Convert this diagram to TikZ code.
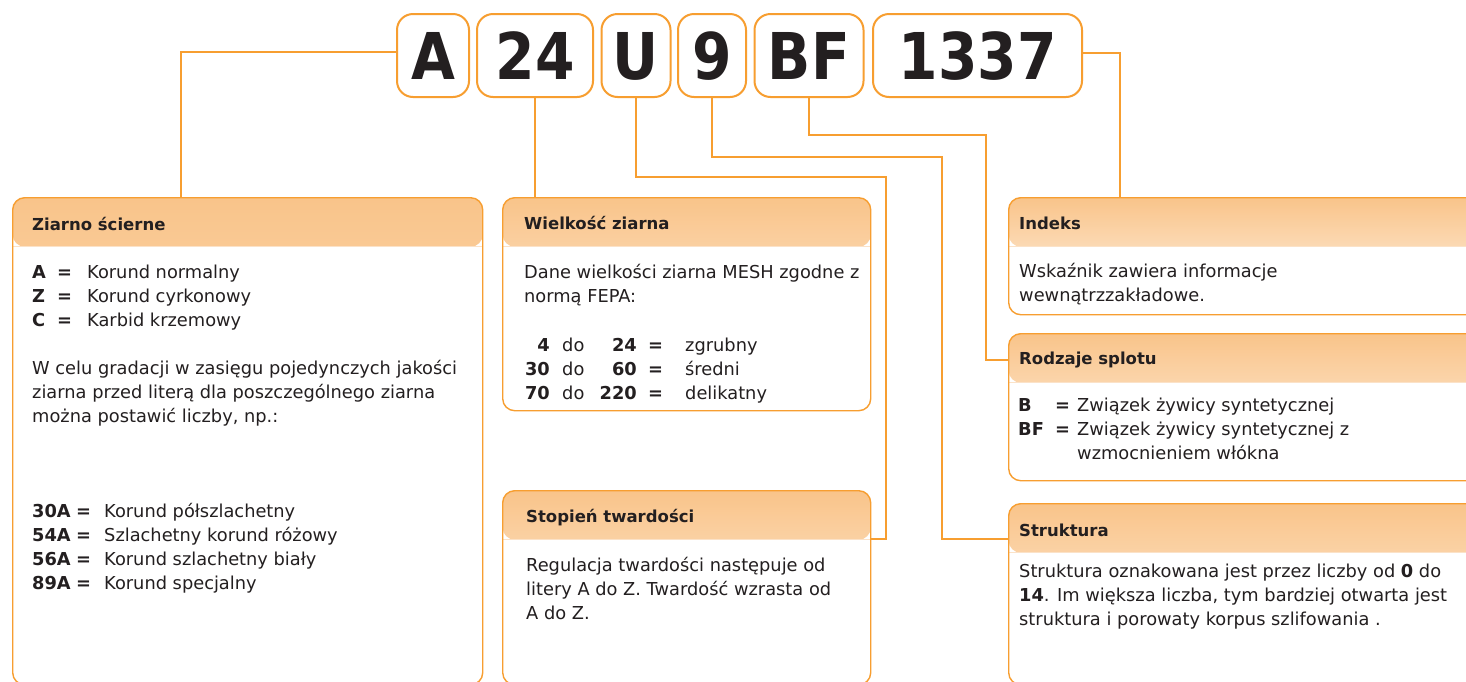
\documentclass[tikz,border=0pt]{standalone}
\usepackage{fontspec}
\setmainfont{DejaVu Sans}
\newfontfamily\codefont[FakeStretch=0.88]{DejaVu Sans}
\usetikzlibrary{calc}
\definecolor{orn}{RGB}{247,158,48}
\definecolor{hdtop}{RGB}{249,196,138}
\definecolor{hdbot}{RGB}{255,247,238}
\definecolor{hdline}{RGB}{251,226,200}
\definecolor{txt}{RGB}{35,31,32}
\tikzset{
  conn/.style={draw=orn, line width=1.4pt},
  codebox/.style={draw=orn, line width=2pt, rounded corners=16pt, minimum height=83pt,
    inner sep=0pt, text height=47pt, text depth=0pt, text=txt,
    font=\codefont\bfseries\fontsize{64.5}{64.5}\selectfont},
  infobox/.style={draw=orn, line width=1.4pt, rounded corners=12pt, inner sep=0pt, anchor=north west,
    path picture={
      \shade[top color=hdtop, bottom color=hdbot] (path picture bounding box.north west) rectangle ([yshift=-49pt]path picture bounding box.north east);
      \draw[hdline, line width=1pt] ([yshift=-49pt]path picture bounding box.north west) -- ([yshift=-49pt]path picture bounding box.north east);
    }},
  ttl/.style={anchor=base west, inner sep=0pt, text=txt, font=\bfseries\fontsize{16.5}{20}\selectfont},
  bd/.style={anchor=base west, inner sep=0pt, text=txt, font=\fontsize{17.8}{24}\selectfont},
  bdb/.style={anchor=base west, inner sep=0pt, text=txt, font=\bfseries\fontsize{17.8}{24}\selectfont},
  bdr/.style={anchor=base east, inner sep=0pt, text=txt, font=\bfseries\fontsize{17.8}{24}\selectfont},
}
\begin{document}
\begin{tikzpicture}[x=1pt, y=-1pt]
\useasboundingbox (0,0) rectangle (1466,681);
\clip (0,0) rectangle (1466,681);
\fill[white] (0,0) rectangle (1466,681);

% code boxes
\node[codebox, minimum width=72pt]  (cA)    at (433,55.5)   {A};
\node[codebox, minimum width=116pt] (c24)   at (535,55.5)   {24};
\node[codebox, minimum width=69pt]  (cU)    at (636,55.5)   {U};
\node[codebox, minimum width=68pt]  (c9)    at (712,55.5)   {9};
\node[codebox, minimum width=109pt] (cBF)   at (809,55.5)   {BF};
\node[codebox, minimum width=209pt] (c1337) at (977.5,55.5) {1337};

% info boxes
\node[infobox, minimum width=470pt, minimum height=487pt] (bZ) at (12,197) {};
\node[infobox, minimum width=368pt, minimum height=213pt] (bW) at (502,197) {};
\node[infobox, minimum width=368pt, minimum height=194pt] (bS) at (502,490) {};
\node[infobox, minimum width=480pt, minimum height=117pt] (bI) at (1008,197) {};
\node[infobox, minimum width=480pt, minimum height=147pt] (bR) at (1008,333) {};
\node[infobox, minimum width=480pt, minimum height=181pt] (bT) at (1008,503) {};

% junction points
\coordinate (jU) at (886,177);
\coordinate (j9) at (942,157);
\coordinate (jB) at (986,135);

% connectors
\draw[conn] ([yshift=3.5pt]cA.west) -| ($(bZ.north west)+(169,0)$);
\draw[conn] (c24.south) -- (c24.south |- bW.north);
\draw[conn] (cU.south) |- (jU) |- ($(bS.north east)+(0,49)$);
\draw[conn] (c9.south) |- (j9) |- ($(bT.north west)+(0,36)$);
\draw[conn] (cBF.south) |- (jB) |- ($(bR.north west)+(0,27)$);
\draw[conn] ([yshift=2.5pt]c1337.east) -| ($(bI.north west)+(112,0)$);

% Box 1: Ziarno scierne
\node[ttl] (tZ) at (32,230) {Ziarno ścierne};
\node[bdb] (zA)  at (32,278) {A};
\node[bdb] (zAe) at (57,278) {=};
\node[bd]  (zAt) at (87,278) {Korund normalny};
\node[bdb] (zZ)  at (32,302) {Z};
\node[bdb] (zZe) at (57,302) {=};
\node[bd]  (zZt) at (87,302) {Korund cyrkonowy};
\node[bdb] (zC)  at (32,326) {C};
\node[bdb] (zCe) at (57,326) {=};
\node[bd]  (zCt) at (87,326) {Karbid krzemowy};
\node[bd] (zp1) at (32,374) {W celu gradacji w zasięgu pojedynczych jakości};
\node[bd] (zp2) at (32,398) {ziarna przed literą dla poszczególnego ziarna};
\node[bd] (zp3) at (32,422) {można postawić liczby, np.:};
\node[bdb] (z30)  at (32,517) {30A};
\node[bdb] (z30e) at (76,517) {=};
\node[bd]  (z30t) at (104,517) {Korund półszlachetny};
\node[bdb] (z54)  at (32,541) {54A};
\node[bdb] (z54e) at (76,541) {=};
\node[bd]  (z54t) at (104,541) {Szlachetny korund różowy};
\node[bdb] (z56)  at (32,565) {56A};
\node[bdb] (z56e) at (76,565) {=};
\node[bd]  (z56t) at (104,565) {Korund szlachetny biały};
\node[bdb] (z89)  at (32,589) {89A};
\node[bdb] (z89e) at (76,589) {=};
\node[bd]  (z89t) at (104,589) {Korund specjalny};

% Box 2: Wielkosc ziarna
\node[ttl] (tW) at (524,229) {Wielkość ziarna};
\node[bd] (w1) at (524,278) {Dane wielkości ziarna MESH zgodne z};
\node[bd] (w2) at (524,302) {normą FEPA:};
\node[bdr] (wa1) at (550,351) {4};
\node[bd]  (wb1) at (562,351) {do};
\node[bdr] (wc1) at (637,351) {24};
\node[bdb] (wd1) at (648,351) {=};
\node[bd]  (we1) at (685,351) {zgrubny};
\node[bdr] (wa2) at (550,375) {30};
\node[bd]  (wb2) at (562,375) {do};
\node[bdr] (wc2) at (637,375) {60};
\node[bdb] (wd2) at (648,375) {=};
\node[bd]  (we2) at (685,375) {średni};
\node[bdr] (wa3) at (550,399) {70};
\node[bd]  (wb3) at (562,399) {do};
\node[bdr] (wc3) at (637,399) {220};
\node[bdb] (wd3) at (648,399) {=};
\node[bd]  (we3) at (685,399) {delikatny};

% Box 3: Stopien twardosci
\node[ttl] (tS) at (526,522) {Stopień twardości};
\node[bd] (s1) at (526,571) {Regulacja twardości następuje od};
\node[bd] (s2) at (526,595) {litery A do Z. Twardość wzrasta od};
\node[bd] (s3) at (526,619) {A do Z.};

% Box 4: Indeks
\node[ttl] (tI) at (1019,229) {Indeks};
\node[bd] (i1) at (1019,277) {Wskaźnik zawiera informacje};
\node[bd] (i2) at (1019,301) {wewnątrzzakładowe.};

% Box 5: Rodzaje splotu
\node[ttl] (tR) at (1019,364) {Rodzaje splotu};
\node[bdb] (rB)  at (1018,411) {B};
\node[bdb] (rBe) at (1055,411) {=};
\node[bd]  (rBt) at (1077,411) {Związek żywicy syntetycznej};
\node[bdb] (rF)  at (1018,435) {BF};
\node[bdb] (rFe) at (1055,435) {=};
\node[bd]  (rFt) at (1077,435) {Związek żywicy syntetycznej z};
\node[bd]  (rFt2) at (1077,459) {wzmocnieniem włókna};

% Box 6: Struktura
\node[ttl] (tT) at (1019,536) {Struktura};
\node[bd] (t1) at (1019,577) {Struktura oznakowana jest przez liczby od \textbf{0} do};
\node[bd] (t2) at (1019,601) {\textbf{14}. Im większa liczba, tym bardziej otwarta jest};
\node[bd] (t3) at (1019,625) {struktura i porowaty korpus szlifowania .};
\end{tikzpicture}
\end{document}
